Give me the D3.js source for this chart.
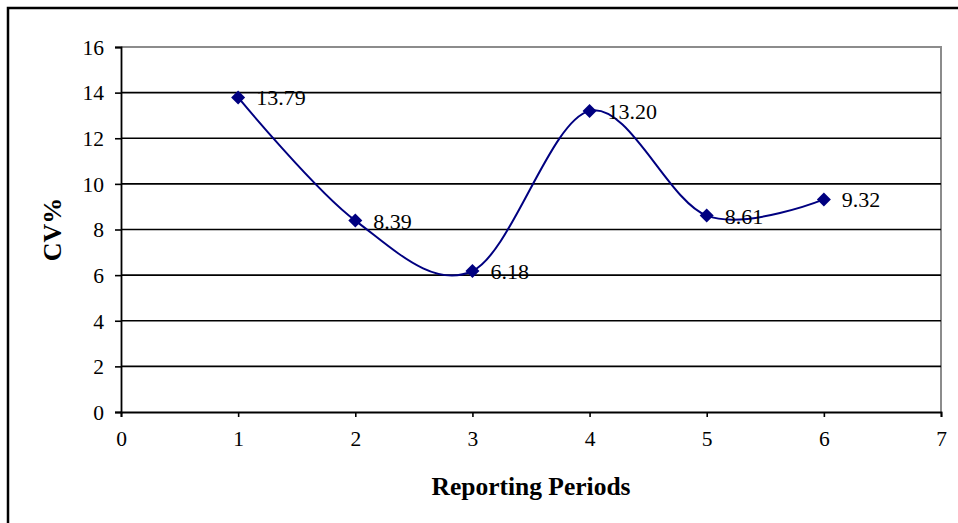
<!DOCTYPE html>
<html>
<head>
<meta charset="utf-8">
<script src="https://cdn.jsdelivr.net/npm/d3@7"></script>
<style>
  body { margin: 0; background: #fff; }
  svg text { font-family: "Liberation Serif", "Times New Roman", serif; }
</style>
</head>
<body>
<div class="grafico"></div>
<script>
/*Datos del gráfico*/
const periods = [1, 2, 3, 4, 5, 6];
const cvValues = [13.79, 8.39, 6.18, 13.20, 8.61, 9.32];
const xTicks = [0, 1, 2, 3, 4, 5, 6, 7];
const yTicks = [0, 2, 4, 6, 8, 10, 12, 14, 16];

const w = 958;
const h = 523;
const margin = {left: 121, right: 17, top: 47, bottom: 111};

const svg = d3.select('.grafico')
  .append('svg')
  .attr('width', w)
  .attr('height', h)

/*Marco exterior*/
svg.append('rect')
  .attr('x', 8).attr('y', 8)
  .attr('width', 970).attr('height', 530)
  .attr('fill', 'none')
  .attr('stroke', '#000')
  .attr('stroke-width', 2.5)

const x = d3.scaleLinear().domain([0, 7]).range([margin.left, w - margin.right])
const y = d3.scaleLinear().domain([0, 16]).range([h - margin.bottom, margin.top])

/*Borde del área de trazado*/
svg.append('path')
  .attr('d', `M${x(0)},${y(16)}H${x(7)}V${y(0)}`)
  .attr('fill', 'none')
  .attr('stroke', '#8c8c8c')
  .attr('stroke-width', 2)

/*Líneas de cuadrícula*/
svg.selectAll('.grid')
  .data(yTicks.filter(d => d > 0 && d < 16))
  .join('line')
  .attr('class', 'grid')
  .attr('x1', x(0)).attr('x2', x(7))
  .attr('y1', d => y(d)).attr('y2', d => y(d))
  .attr('stroke', '#000')
  .attr('stroke-width', 1.6)

/*Ejes*/
const xAxis = svg.append('g')
  .attr('transform', `translate(0,${y(0)})`)
  .call(d3.axisBottom(x).tickValues(xTicks).tickSize(5).tickPadding(14).tickFormat(d3.format('d')))
const yAxis = svg.append('g')
  .attr('transform', `translate(${x(0)},0)`)
  .call(d3.axisLeft(y).tickValues(yTicks).tickSize(6).tickPadding(11).tickFormat(d3.format('d')))

for (const ax of [xAxis, yAxis]) {
  ax.select('.domain').attr('stroke', '#000').attr('stroke-width', 1.8)
  ax.selectAll('.tick line').attr('stroke', '#000').attr('stroke-width', 1.6)
  ax.selectAll('.tick text')
    .attr('fill', '#000')
    .style('font-family', '"Liberation Serif", "Times New Roman", serif')
    .style('font-size', '21.5px')
}
yAxis.selectAll('.tick text').attr('dy', '0.34em')

/*Línea suavizada*/
const pts = periods.map((p, i) => [p, cvValues[i]])
svg.append('path')
  .datum(pts)
  .attr('fill', 'none')
  .attr('stroke', '#000080')
  .attr('stroke-width', 2)
  .attr('d', d3.line().x(d => x(d[0])).y(d => y(d[1])).curve(d3.curveCardinal.tension(0)))

/*Marcadores*/
svg.selectAll('.marker')
  .data(pts)
  .join('path')
  .attr('class', 'marker')
  .attr('transform', d => `translate(${x(d[0])},${y(d[1])})`)
  .attr('d', 'M0,-7L7,0L0,7L-7,0Z')
  .attr('fill', '#000080')

/*Etiquetas de datos*/
svg.selectAll('.label')
  .data(pts)
  .join('text')
  .attr('class', 'label')
  .attr('x', d => x(d[0]) + 18)
  .attr('y', d => y(d[1]) + 8)
  .style('font-size', '22px')
  .attr('fill', '#000')
  .text(d => d[1].toFixed(2))

/*Títulos de ejes*/
svg.append('text')
  .attr('x', (x(0) + x(7)) / 2)
  .attr('y', 495)
  .attr('text-anchor', 'middle')
  .style('font-size', '25.5px')
  .style('font-weight', 'bold')
  .text('Reporting Periods')

svg.append('text')
  .attr('transform', `translate(61,${(y(0) + y(16)) / 2}) rotate(-90)`)
  .attr('text-anchor', 'middle')
  .style('font-size', '26px')
  .style('font-weight', 'bold')
  .text('CV%')
</script>
</body>
</html>
